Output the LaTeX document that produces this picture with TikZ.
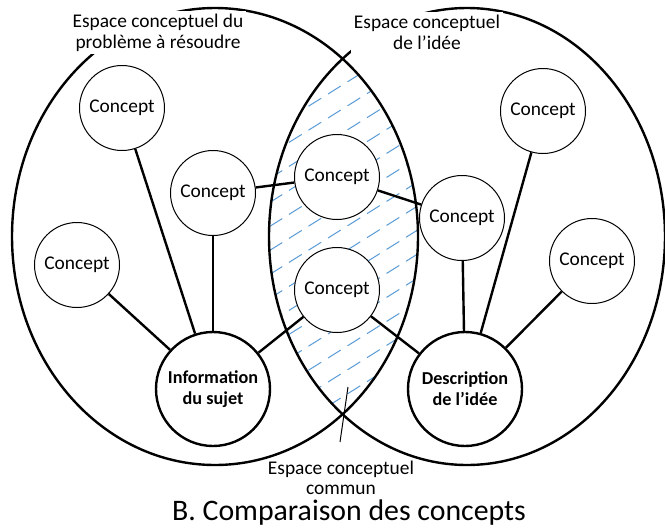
\documentclass[tikz,border=0pt]{standalone}
\usepackage{fontspec}
\setmainfont{Carlito}
\definecolor{hatchblue}{RGB}{91,155,213}
\begin{document}
\begin{tikzpicture}[x=0.5pt,y=-0.5pt,
  concept/.style={circle,draw,line width=0.5pt,fill=white,minimum size=42.5pt,inner sep=0pt,font=\fontsize{9.7}{10.6}\selectfont},
  bignode/.style={circle,draw,line width=1.2pt,fill=white,minimum size=57pt,inner sep=0pt,align=center,font=\fontsize{9.1}{10.5}\selectfont\bfseries},
  link/.style={line width=1.2pt},
  spaceline/.style={line width=1.2pt},
  lbl/.style={fill=white,inner sep=1.5pt,align=center,font=\fontsize{9.7}{10.5}\selectfont},
  hatchline/.style={draw=hatchblue,line width=0.5pt,dash pattern=on 7.5pt off 4pt},
  pointer/.style={line width=0.5pt}
]
\useasboundingbox (0,0) rectangle (665,531);
% hatching of the common space
\begin{scope}
  \clip (215,236.5) ellipse [x radius=101.5pt, y radius=114.25pt];
  \clip (467,236.5) ellipse [x radius=99pt, y radius=114.25pt];
  \foreach \c in {107,131,...,611} {
    \draw[hatchline] (250,\c-156.25) -- (440,\c-275);
  }
\end{scope}
% conceptual spaces
\draw[spaceline] (215,236.5) ellipse [x radius=101.5pt, y radius=114.25pt];
\draw[spaceline] (467,236.5) ellipse [x radius=99pt, y radius=114.25pt];
% nodes
\node[bignode] (info) at (213,389) {Information\\du sujet};
\node[bignode] (desc) at (465,389) {Description\\de l’idée};
\node[concept] (c1) at (122,108) {Concept};
\node[concept] (c2) at (213,193) {Concept};
\node[concept] (c3) at (77,265) {Concept};
\node[concept] (c4) at (337,177) {Concept};
\node[concept] (c5) at (337,290) {Concept};
\node[concept] (c6) at (462,218) {Concept};
\node[concept] (c7) at (543,111) {Concept};
\node[concept] (c8) at (592,261) {Concept};
% links
\draw[link] (info) -- (c1);
\draw[link] (info) -- (c2);
\draw[link] (info) -- (c3);
\draw[link] (info) -- (c5);
\draw[link] (c2) -- (c4);
\draw[link] (c4) -- (c6);
\draw[link] (desc) -- (c5);
\draw[link] (desc) -- (c6);
\draw[link] (desc) -- (c7);
\draw[link] (desc) -- (c8);
% labels
\node[lbl] (l1) at (158,32.5) {Espace conceptuel du\\problème à résoudre};
\node[lbl] (l2) at (427,32.5) {Espace conceptuel\\de l’idée};
\node[align=center,inner sep=0pt,font=\fontsize{9.7}{10}\selectfont] (l3) at (341,478) {Espace conceptuel\\commun};
\coordinate (pa) at (348,387);
\coordinate (pb) at (340,442);
\draw[pointer] (pa) -- (pb);
\node[inner sep=0pt,font=\fontsize{14.9}{17}\selectfont] (title) at (349,513) {B. Comparaison des concepts};
\end{tikzpicture}
\end{document}
